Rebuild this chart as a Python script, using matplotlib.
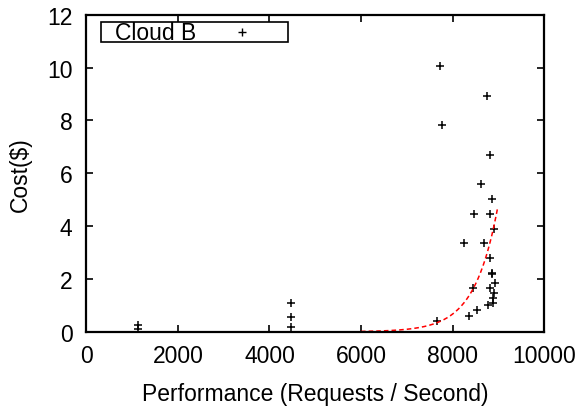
import numpy as np
import matplotlib
matplotlib.use("Agg")
import matplotlib.pyplot as plt
from matplotlib.patches import Rectangle
from matplotlib.lines import Line2D

plt.rcParams["font.family"] = ["Liberation Sans", "DejaVu Sans"]

# Measured requests/second and cost for each Cloud B configuration
performance = [1130, 1130,
               4460, 4460, 4460,
               7734, 7775, 8755, 8820, 8626, 8868, 8479, 8820, 8901, 8261,
               8691, 8820, 8868, 8868, 8925, 8455, 8820, 8901, 8885, 8885,
               8771, 8528, 8350, 7653]
cost = [0.25, 0.10,
        1.10, 0.545, 0.19,
        10.05, 7.82, 8.93, 6.70, 5.58, 5.01, 4.45, 4.45, 3.90, 3.35,
        3.35, 2.78, 2.23, 2.20, 1.85, 1.67, 1.65, 1.45, 1.26, 1.10,
        1.02, 0.82, 0.61, 0.39]

# Exponential trend: cost = fit_a * exp(fit_b * performance)
fit_b = 0.00198
fit_a = 4.64 * np.exp(-fit_b * 8980)
fit_range = (6000, 8980)

series_label = "Cloud B"
x_ticks = [0, 2000, 4000, 6000, 8000, 10000]
y_ticks = [0, 2, 4, 6, 8, 10, 12]

FS = 16.5

fig = plt.figure(figsize=(5.8, 4.1), dpi=100)
ax = fig.add_axes([0.149, 0.1885, 0.789, 0.7732])

ax.plot(performance, cost, linestyle="none", marker="+", color="black",
        markersize=6, markeredgewidth=1.1)

xf = np.linspace(fit_range[0], fit_range[1], 300)
ax.plot(xf, fit_a * np.exp(fit_b * xf), color="#ff0000", linestyle=(0, (3, 2)),
        linewidth=1.1)

ax.set_xlim(0, 10000)
ax.set_ylim(0, 12)
ax.set_xticks(x_ticks)
ax.set_yticks(y_ticks)
ax.tick_params(direction="in", length=5, width=1.2, top=True, right=True,
               labelsize=FS)
ax.tick_params(axis="x", pad=8.5)
ax.tick_params(axis="y", pad=10)
for s in ax.spines.values():
    s.set_linewidth(1.6)

ax.set_xlabel("Performance (Requests / Second)", fontsize=FS, labelpad=11)
ax.set_ylabel("Cost($)", fontsize=FS, labelpad=11)

# Key box in the upper-left corner: title on the left, sample marker on the right
ax.add_patch(Rectangle((0.031, 0.913), 0.409, 0.063, transform=ax.transAxes,
                       fill=False, edgecolor="black", linewidth=1.2,
                       zorder=5))
ax.text(0.063, 0.945, series_label, transform=ax.transAxes, fontsize=FS,
        va="center", ha="left")
ax.add_line(Line2D([0.341], [0.945], transform=ax.transAxes, marker="+",
                   linestyle="none", color="black", markersize=5.5,
                   markeredgewidth=1.0))

fig.savefig("out.png", dpi=100)
